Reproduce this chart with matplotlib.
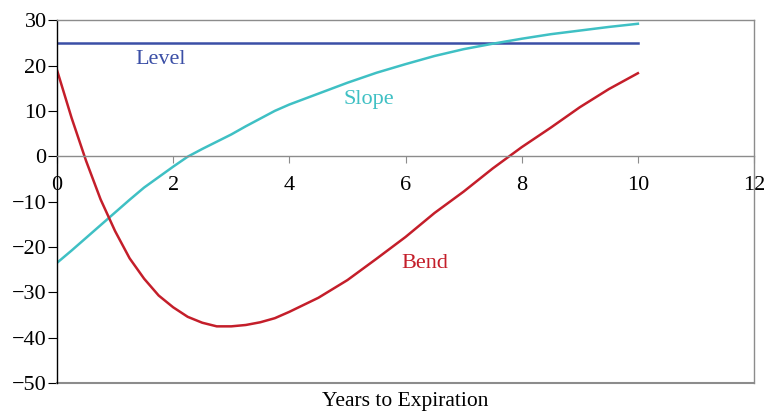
import matplotlib
matplotlib.use("Agg")
import matplotlib.pyplot as plt

plt.rcParams['font.family'] = ['Liberation Serif', 'DejaVu Serif']

years = [0, 0.25, 0.5, 0.75, 1, 1.25, 1.5, 1.75, 2, 2.25, 2.5, 2.75, 3, 3.25, 3.5, 3.75,
         4, 4.5, 5, 5.5, 6, 6.5, 7, 7.5, 8, 8.5, 9, 9.5, 10]
level = [25.0] * len(years)
slope = [-23.5, -20.8, -18.0, -15.2, -12.4, -9.6, -6.9, -4.6, -2.3, -0.1, 1.6, 3.2, 4.8, 6.6, 8.3, 10.0,
         11.4, 13.8, 16.2, 18.4, 20.3, 22.1, 23.6, 24.8, 25.9, 26.9, 27.7, 28.5, 29.2]
bend = [19.0, 8.5, -1.0, -9.5, -16.5, -22.5, -27.0, -30.7, -33.3, -35.4, -36.7, -37.5, -37.5, -37.2, -36.6, -35.7,
        -34.3, -31.2, -27.3, -22.6, -17.8, -12.5, -7.8, -2.7, 2.0, 6.3, 10.8, 14.8, 18.3]

x_ticks = [0, 2, 4, 6, 8, 10, 12]
y_ticks = [-50, -40, -30, -20, -10, 0, 10, 20, 30]

fig = plt.figure(figsize=(7.64, 4.11), dpi=100)
ax = fig.add_axes([0.0746, 0.068, 0.9124, 0.883])

ax.plot(years, level, color='#3b4fa6', lw=1.8)
ax.plot(years, slope, color='#3fc0c4', lw=1.8)
ax.plot(years, bend, color='#c41e2a', lw=1.8)

ax.set_xlim(0, 12)
ax.set_ylim(-50, 30)
ax.set_xticks(x_ticks)
ax.set_yticks(y_ticks)

gray = '#8c8c8c'
ax.spines['bottom'].set_position(('data', 0))
ax.spines['bottom'].set_color(gray)
ax.spines['top'].set_color(gray)
ax.spines['right'].set_color(gray)
ax.spines['left'].set_color('black')
for s in ax.spines.values():
    s.set_linewidth(1.0)
ax.axhline(-50, color=gray, lw=1.5, clip_on=False)

ax.tick_params(axis='x', direction='out', length=5, color=gray, labelsize=16, pad=9)
ax.tick_params(axis='y', direction='out', length=6.5, color='black', labelsize=16, pad=1)

ax.text(1.78, 21.4, 'Level', color='#3b4fa6', fontsize=16, ha='center', va='center')
ax.text(5.36, 12.6, 'Slope', color='#3fc0c4', fontsize=16, ha='center', va='center')
ax.text(6.34, -23.6, 'Bend', color='#c41e2a', fontsize=16, ha='center', va='center')

fig.text(405 / 764, 1 - 401 / 411, 'Years to Expiration', fontsize=15.5, ha='center', va='center')

fig.savefig('out.png', dpi=100)
